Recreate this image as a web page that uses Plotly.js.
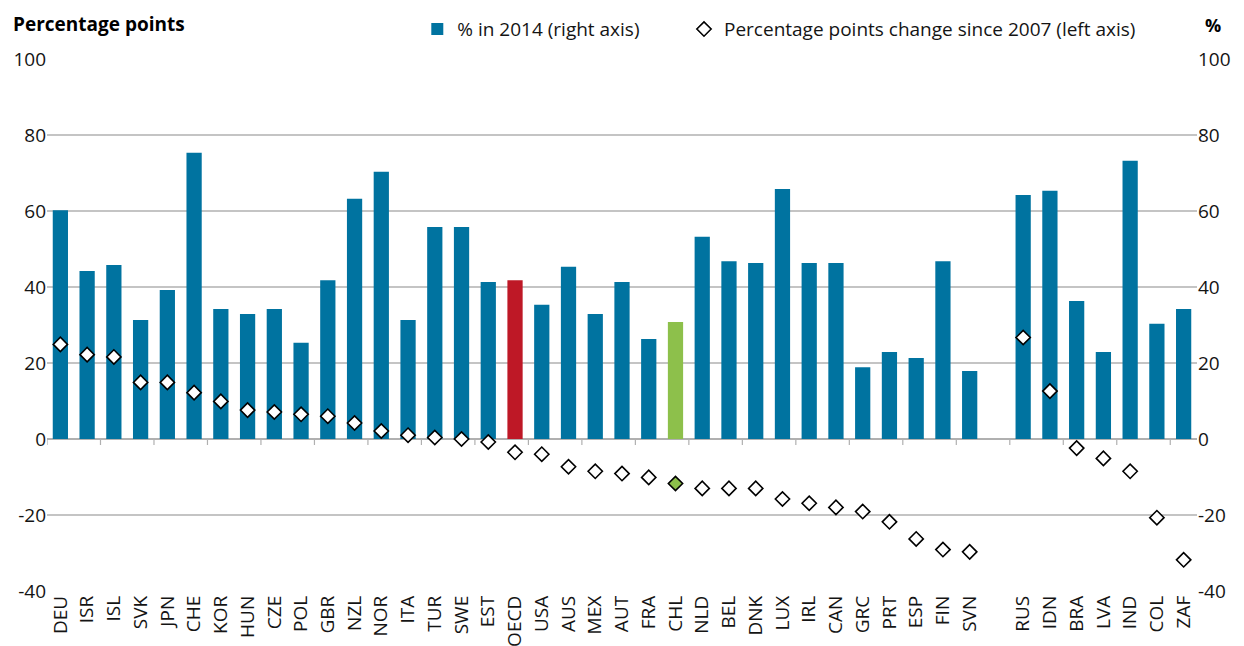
<!DOCTYPE html>
<html>
<head>
<meta charset="utf-8">
<script src="https://cdn.plot.ly/plotly-3.0.1.min.js"></script>
<style>html,body{margin:0;padding:0;background:#fff}#chart{width:1244px;height:646px}</style>
</head>
<body>
<div id="chart"></div>
<script>
const categories = ['DEU','ISR','ISL','SVK','JPN','CHE','KOR','HUN','CZE','POL','GBR','NZL','NOR','ITA','TUR','SWE','EST','OECD','USA','AUS','MEX','AUT','FRA','CHL','NLD','BEL','DNK','LUX','IRL','CAN','GRC','PRT','ESP','FIN','SVN',' ','RUS','IDN','BRA','LVA','IND','COL','ZAF'];
const pct2014 = [60.2,44.2,45.8,31.3,39.2,75.3,34.2,32.9,34.2,25.3,41.8,63.2,70.3,31.3,55.8,55.8,41.3,41.8,35.3,45.3,32.9,41.3,26.3,30.8,53.2,46.8,46.3,65.8,46.3,46.3,18.9,22.9,21.3,46.8,17.9,null,64.2,65.3,36.3,22.9,73.2,30.3,34.2];
const change2007 = [24.9,22.2,21.6,14.9,14.9,12.2,9.9,7.6,7.1,6.5,6.0,4.2,2.1,1.0,0.4,0.0,-0.8,-3.5,-4.0,-7.3,-8.5,-9.1,-10.1,-11.7,-13.0,-13.0,-13.0,-15.8,-16.9,-18.0,-19.1,-21.8,-26.3,-29.1,-29.7,null,26.7,12.6,-2.4,-5.1,-8.5,-20.7,-31.8];
const yTicks = [-40,-20,0,20,40,60,80,100];

const BLUE = '#0073A0', RED = '#BE1826', GREEN = '#8DC04B';
const barColors = categories.map(c => c === 'OECD' ? RED : (c === 'CHL' ? GREEN : BLUE));
const dotColors = categories.map(c => c === 'CHL' ? GREEN : '#FFFFFF');

const FONT = 'Open Sans, Noto Sans, sans-serif';
const NBSP = '\u00A0';
const AXIS_GREY = '#B0B0B0';

const traces = [
  {
    type: 'bar', name: '% in 2014 (right axis)' + NBSP.repeat(8),
    x: categories, y: pct2014, yaxis: 'y',
    marker: {color: barColors}, hoverinfo: 'x+y'
  },
  {
    type: 'scatter', mode: 'markers', name: 'Percentage points change since 2007 (left axis)',
    x: categories, y: change2007, yaxis: 'y2',
    marker: {symbol: 'diamond', size: 11, color: dotColors, line: {color: '#000', width: 1.6}},
    hoverinfo: 'x+y'
  }
];

// small tick marks hanging below the zero line at every second category boundary
const tickShapes = [];
for (let k = 0; 2 * k <= categories.length; k++) {
  const xb = 2 * k - 0.5;
  tickShapes.push({
    type: 'line', xref: 'x', yref: 'y', ysizemode: 'pixel', yanchor: 0,
    x0: xb, x1: xb, y0: 0, y1: -6,
    line: {color: AXIS_GREY, width: 1.2}, layer: 'above'
  });
}

const yMin = -40, yMax = 100;
const axisY = {
  range: [yMin, yMax], tickvals: yTicks, ticktext: yTicks.map(String),
  showline: false, ticks: '', fixedrange: true, automargin: false,
  tickfont: {family: FONT, size: 19, color: '#141414'}
};

const layout = {
  width: 1244, height: 646,
  margin: {l: 47, r: 47, t: 59, b: 55, autoexpand: false},
  paper_bgcolor: '#FFFFFF', plot_bgcolor: '#FFFFFF',
  bargap: 0.43,
  showlegend: true,
  legend: {
    orientation: 'h', x: 0.322, xanchor: 'left', y: 1.056, yanchor: 'middle',
    font: {family: FONT, size: 19, color: '#141414'},
    traceorder: 'normal', itemclick: false, bgcolor: 'rgba(0,0,0,0)'
  },
  xaxis: {
    type: 'category', categoryorder: 'array', categoryarray: categories,
    tickangle: -90, ticks: '', showgrid: false, showline: false, automargin: false,
    tickfont: {family: FONT, size: 19, color: '#141414'},
    range: [-0.5, categories.length - 0.5]
  },
  // right axis: % in 2014 (bars), carries gridlines
  yaxis: Object.assign({}, axisY, {
    side: 'right',
    showgrid: true, gridcolor: '#C4C4C4', gridwidth: 1.2,
    zeroline: true, zerolinecolor: AXIS_GREY, zerolinewidth: 1.2
  }),
  // left axis: percentage points change (diamonds), drawn on top
  yaxis2: Object.assign({}, axisY, {
    side: 'left', overlaying: 'y', showgrid: false, zeroline: false
  }),
  shapes: tickShapes,
  annotations: [
    {text: '<b>Percentage points</b>', xref: 'paper', yref: 'paper', x: -0.031, y: 1.065, xanchor: 'left', yanchor: 'middle', showarrow: false, font: {family: FONT, size: 19, color: '#000'}},
    {text: '<b>%</b>', xref: 'paper', yref: 'paper', x: 1.005, y: 1.063, xanchor: 'left', yanchor: 'middle', showarrow: false, font: {family: FONT, size: 18, color: '#000'}}
  ]
};

Plotly.newPlot('chart', traces, layout, {displayModeBar: false, staticPlot: true});
</script>
</body>
</html>
